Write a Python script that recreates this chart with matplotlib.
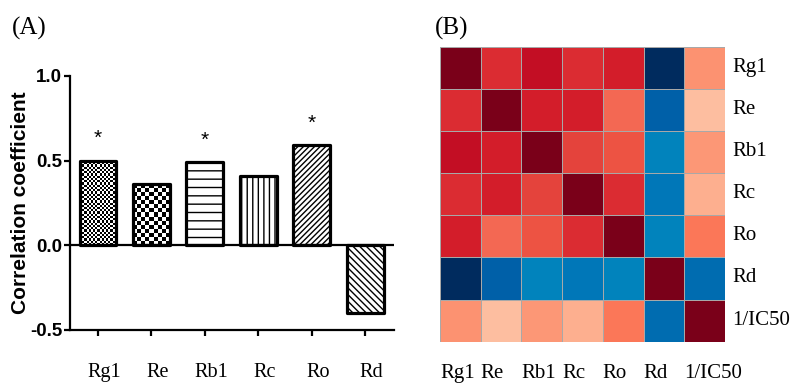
import numpy as np
import matplotlib
matplotlib.use("Agg")
import matplotlib.pyplot as plt
from matplotlib.colors import LinearSegmentedColormap
from matplotlib.transforms import ScaledTranslation

# ---------------- data ----------------
bar_labels = ["Rg1", "Re", "Rb1", "Rc", "Ro", "Rd"]
bar_values = [0.50, 0.36, 0.49, 0.41, 0.59, -0.40]
significant = [True, False, True, False, True, False]
bar_hatches = ["checker_fine", "checker_coarse", "--", "|||", "//////", "\\\\\\\\\\"]
y_ticks = [-0.5, 0.0, 0.5, 1.0]
y_ticklabels = ["-0.5", "0.0", "0.5", "1.0"]

heat_labels = ["Rg1", "Re", "Rb1", "Rc", "Ro", "Rd", "1/IC50"]
heat_values = np.array([
    [1.00, 0.75, 0.85, 0.75, 0.80, -0.90, 0.50],
    [0.75, 1.00, 0.80, 0.80, 0.62, -0.50, 0.36],
    [0.85, 0.80, 1.00, 0.70, 0.66, -0.28, 0.49],
    [0.75, 0.80, 0.70, 1.00, 0.75, -0.33, 0.41],
    [0.80, 0.62, 0.66, 0.75, 1.00, -0.28, 0.59],
    [-0.90, -0.50, -0.28, -0.33, -0.28, 1.00, -0.40],
    [0.50, 0.36, 0.49, 0.41, 0.59, -0.40, 1.00],
])

# colormap anchors (style)
cmap_anchors = [
    (-1.00, "#00234f"), (-0.90, "#002b5f"), (-0.50, "#0060a8"), (-0.40, "#006cb0"),
    (-0.33, "#0078b8"), (-0.28, "#0082bc"), (0.00, "#f7f7f7"), (0.30, "#fdd0b8"),
    (0.36, "#fdc0a2"), (0.41, "#fdb090"), (0.50, "#fc9473"), (0.59, "#fc7858"),
    (0.62, "#f46a54"), (0.66, "#ee5444"), (0.70, "#e4443c"), (0.75, "#dc2e33"),
    (0.80, "#d41e2b"), (0.85, "#c40e24"), (0.95, "#900a1e"), (1.00, "#7a0019"),
]
cmap = LinearSegmentedColormap.from_list(
    "custom", [((v + 1) / 2, c) for v, c in cmap_anchors])

serif = ["Liberation Serif", "DejaVu Serif"]
sans = ["Liberation Sans", "DejaVu Sans"]

W, H = 797, 383
fig = plt.figure(figsize=(W / 100, H / 100), dpi=100)
plt.rcParams["hatch.linewidth"] = 1.0

# ---------------- panel A ----------------
axA = fig.add_axes([70 / W, 1 - 330 / H, 324 / W, 254 / H])
x = np.arange(len(bar_labels))
xlim = (-0.524, 5.54)
ylim = (-0.5, 1.0)
axA.set_xlim(*xlim)
axA.set_ylim(*ylim)

bars = axA.bar(x, bar_values, width=0.69, facecolor="none", edgecolor="black",
               linewidth=2.3, zorder=3, joinstyle="round")

bb = axA.get_window_extent()
sx = bb.width / (xlim[1] - xlim[0])
sy = bb.height / (ylim[1] - ylim[0])
for b, h in zip(bars, bar_hatches):
    if h.startswith("checker"):
        cell = 2.2 if h == "checker_fine" else 4.2
        x0, w = b.get_x(), b.get_width()
        y0, hh = b.get_y(), b.get_height()
        nx = max(1, int(round(w * sx / cell)))
        ny = max(1, int(round(abs(hh) * sy / cell)))
        board = (np.add.outer(np.arange(ny), np.arange(nx)) % 2).astype(float)
        im = axA.imshow(board, extent=(x0, x0 + w, y0, y0 + hh), cmap="gray",
                        interpolation="nearest", aspect="auto", zorder=2,
                        origin="lower")
        im.set_clip_path(b)
    else:
        b.set_hatch(h)
        b.set_facecolor("white")
        b.set_edgecolor("black")

axA.set_xlim(*xlim)
axA.set_ylim(*ylim)

for xi, v, s in zip(x, bar_values, significant):
    if s:
        axA.text(xi, v + 0.13, "*", ha="center", va="center", fontsize=15,
                 family=sans, zorder=4)

axA.axhline(0, color="black", linewidth=1.6, zorder=4)
for sp in ["top", "right"]:
    axA.spines[sp].set_visible(False)
for sp in ["left", "bottom"]:
    axA.spines[sp].set_linewidth(1.6)
axA.set_yticks(y_ticks)
axA.set_yticklabels(y_ticklabels, fontsize=13.5, fontweight="bold", family=sans)
axA.set_xticks(x)
axA.set_xticklabels(bar_labels, fontsize=14.5, family=serif)
axA.tick_params(axis="y", length=4.5, width=1.6, pad=1)
axA.tick_params(axis="x", length=4.5, width=1.6, pad=19)
shift = ScaledTranslation(6 / 100, 0, fig.dpi_scale_trans)
for lbl in axA.get_xticklabels():
    lbl.set_transform(lbl.get_transform() + shift)
axA.set_ylabel("Correlation coefficient", fontsize=15, fontweight="bold",
               family=sans)
axA.yaxis.set_label_coords(-0.124, 0.5)

fig.text(29 / W, 1 - 28 / H, "(A)", fontsize=18, family=serif,
         ha="center", va="center")

# ---------------- panel B ----------------
axB = fig.add_axes([440 / W, 1 - 341.7 / H, 285 / W, 295 / H])
n = len(heat_labels)
axB.pcolormesh(np.arange(n + 1), np.arange(n + 1), heat_values, cmap=cmap,
               vmin=-1, vmax=1, edgecolors="#a8a8a8", linewidth=0.6)
axB.set_xlim(0, n)
axB.set_ylim(n, 0)
for sp in axB.spines.values():
    sp.set_visible(False)
axB.set_xticks(np.arange(n))
axB.set_xticklabels(heat_labels, fontsize=15, family=serif, ha="left")
axB.set_yticks(np.arange(n) + 0.5)
axB.set_yticklabels(heat_labels, fontsize=15, family=serif)
axB.yaxis.tick_right()
axB.tick_params(axis="x", length=0, pad=16)
axB.tick_params(axis="y", length=0, pad=5)
up = ScaledTranslation(0, 3 / 100, fig.dpi_scale_trans)
for lbl in axB.get_yticklabels():
    lbl.set_transform(lbl.get_transform() + up)

fig.text(452 / W, 1 - 28 / H, "(B)", fontsize=18, family=serif,
         ha="center", va="center")

fig.savefig("out.png", dpi=100)
